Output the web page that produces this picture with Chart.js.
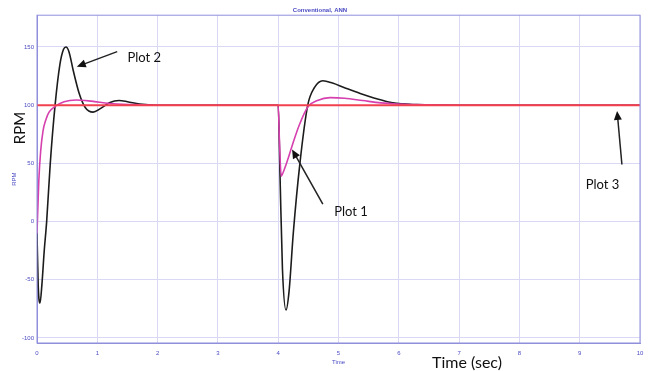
<!DOCTYPE html>
<html>
<head>
<meta charset="utf-8">
<script src="https://cdn.jsdelivr.net/npm/chart.js@4.4.0/dist/chart.umd.min.js"></script>
<style>
  html, body { margin: 0; padding: 0; background: #fff; }
  canvas { display: block; }
</style>
</head>
<body>
<canvas id="speed-chart" width="653" height="371"></canvas>
<script>
// tick labels
const xTicks = [0, 1, 2, 3, 4, 5, 6, 7, 8, 9, 10];
const yTicks = [-100, -50, 0, 50, 100, 150];

// Plot 2 - conventional controller (black)
const convTime = [0, 0.02, 0.05, 0.08, 0.12, 0.16, 0.22, 0.3, 0.38, 0.44, 0.48, 0.53, 0.6, 0.7, 0.8, 0.93, 1.05, 1.2, 1.36, 1.5, 1.7, 2.0, 2.5, 3.0, 4.0, 4.03, 4.07, 4.13, 4.18, 4.25, 4.36, 4.49, 4.6, 4.74, 4.9, 5.1, 5.36, 5.6, 5.9, 6.3, 7, 8, 9, 10];
const convRpm = [-10, -55, -70, -55, -25, 0, 50, 100, 135, 148, 150, 146, 130, 110, 98, 94, 97, 102, 104, 103, 101, 100, 100, 100, 100, 40, -40, -76, -60, -10, 50, 100, 115, 121, 119, 115, 110, 106, 102, 100.5, 100, 100, 100, 100];

// Plot 1 - ANN controller (magenta)
const annTime = [0, 0.03, 0.06, 0.1, 0.15, 0.2, 0.3, 0.45, 0.65, 0.9, 1.2, 1.6, 2.0, 3.0, 4.0, 4.02, 4.05, 4.08, 4.15, 4.23, 4.35, 4.5, 4.65, 4.86, 5.1, 5.4, 5.7, 6.0, 6.5, 7, 8, 9, 10];
const annRpm = [-10, 35, 60, 78, 88, 94, 99, 103, 104.5, 103.5, 101.5, 100.5, 100, 100, 100, 70, 39, 42, 52, 65, 83, 99, 104, 106.5, 106, 104, 102, 101, 100.3, 100, 100, 100, 100];

// Plot 3 - reference speed (red)
const refTime = [0, 10];
const refRpm = [100, 100];

const toPoints = (xs, ys) => xs.map((x, i) => ({ x: x, y: ys[i] }));

const axisBlue = '#4b4bc4';
const gridBlue = '#d9d9f5';
const borderBlue = '#8f8fdc';

// arrows and labels laid over the plot (in data units)
const notes = [
  { text: 'Plot 2', x: 1.5, y: 141, tail: [1.33, 146], tip: [0.66, 133] },
  { text: 'Plot 1', x: 4.93, y: 8, tail: [4.74, 15], tip: [4.23, 62] },
  { text: 'Plot 3', x: 9.1, y: 32, tail: [9.7, 49], tip: [9.62, 95] }
];

const overlayPlugin = {
  id: 'overlay',
  afterDraw(chart) {
    const ctx = chart.ctx;
    const a = chart.chartArea;
    const xs = chart.scales.x;
    const ys = chart.scales.y;
    ctx.save();
    // box round the plot
    ctx.strokeStyle = borderBlue;
    ctx.lineWidth = 1;
    ctx.strokeRect(a.left, a.top, a.right - a.left, a.bottom - a.top);

    ctx.fillStyle = '#111';
    ctx.strokeStyle = '#222';
    ctx.font = '13px Lato, "Open Sans", sans-serif';
    ctx.textBaseline = 'middle';
    notes.forEach(n => {
      ctx.textAlign = 'left';
      ctx.fillText(n.text, xs.getPixelForValue(n.x), ys.getPixelForValue(n.y));
      const x1 = xs.getPixelForValue(n.tail[0]), y1 = ys.getPixelForValue(n.tail[1]);
      const x2 = xs.getPixelForValue(n.tip[0]), y2 = ys.getPixelForValue(n.tip[1]);
      const ang = Math.atan2(y2 - y1, x2 - x1);
      ctx.lineWidth = 1.5;
      ctx.beginPath();
      ctx.moveTo(x1, y1);
      ctx.lineTo(x2 - 6 * Math.cos(ang), y2 - 6 * Math.sin(ang));
      ctx.stroke();
      ctx.beginPath();
      ctx.moveTo(x2, y2);
      ctx.lineTo(x2 - 9 * Math.cos(ang) + 4 * Math.sin(ang), y2 - 9 * Math.sin(ang) - 4 * Math.cos(ang));
      ctx.lineTo(x2 - 9 * Math.cos(ang) - 4 * Math.sin(ang), y2 - 9 * Math.sin(ang) + 4 * Math.cos(ang));
      ctx.closePath();
      ctx.fill();
    });

    // big axis captions pasted on the figure
    ctx.font = '16px Lato, "Open Sans", sans-serif';
    ctx.textAlign = 'center';
    ctx.fillText('Time (sec)', 467, 363);
    ctx.translate(20, 128);
    ctx.rotate(-Math.PI / 2);
    ctx.font = '15px Lato, "Open Sans", sans-serif';
    ctx.fillText('RPM', 0, 0);
    ctx.restore();
  }
};

// dataset 0 is drawn on top, so the red reference goes first
const ctx = document.getElementById('speed-chart').getContext('2d');
new Chart(ctx, {
  type: 'line',
  data: {
    datasets: [
      {
        label: 'Plot 3',
        data: toPoints(refTime, refRpm),
        borderColor: '#f2414e',
        borderWidth: 2,
        pointRadius: 0,
        fill: false
      },
      {
        label: 'Plot 1',
        data: toPoints(annTime, annRpm),
        borderColor: '#d63fae',
        borderWidth: 1.6,
        pointRadius: 0,
        cubicInterpolationMode: 'monotone',
        fill: false
      },
      {
        label: 'Plot 2',
        data: toPoints(convTime, convRpm),
        borderColor: '#1c1c1c',
        borderWidth: 1.6,
        pointRadius: 0,
        cubicInterpolationMode: 'monotone',
        fill: false
      }
    ]
  },
  options: {
    responsive: false,
    animation: false,
    layout: { padding: { left: 0, right: 13, top: 0, bottom: 0 } },
    plugins: {
      legend: { display: false },
      tooltip: { enabled: false },
      title: {
        display: true,
        text: 'Conventional, ANN',
        color: axisBlue,
        font: { size: 6, family: 'Arial, "Liberation Sans", sans-serif' },
        padding: { top: 7, bottom: 1 }
      }
    },
    scales: {
      x: {
        type: 'linear',
        min: 0,
        max: 10,
        afterBuildTicks: s => { s.ticks = xTicks.map(v => ({ value: v })); },
        afterFit: s => { s.height = 28; },
        ticks: {
          color: axisBlue,
          padding: 7,
          maxRotation: 0,
          font: { size: 6, family: 'Arial, "Liberation Sans", sans-serif' }
        },
        grid: { color: gridBlue, drawTicks: false },
        border: { color: borderBlue },
        title: {
          display: true,
          text: 'Time',
          color: axisBlue,
          padding: 5,
          font: { size: 6, family: 'Arial, "Liberation Sans", sans-serif' }
        }
      },
      y: {
        min: -104.3,
        max: 177.3,
        afterBuildTicks: s => { s.ticks = yTicks.map(v => ({ value: v })); },
        afterFit: s => { s.width = 37; },
        ticks: {
          color: axisBlue,
          padding: 3,
          font: { size: 6, family: 'Arial, "Liberation Sans", sans-serif' }
        },
        grid: { color: gridBlue, drawTicks: false },
        border: { color: borderBlue },
        title: {
          display: true,
          text: 'RPM',
          color: axisBlue,
          padding: 11,
          font: { size: 6, family: 'Arial, "Liberation Sans", sans-serif' }
        }
      }
    }
  },
  plugins: [overlayPlugin]
});
</script>
</body>
</html>
